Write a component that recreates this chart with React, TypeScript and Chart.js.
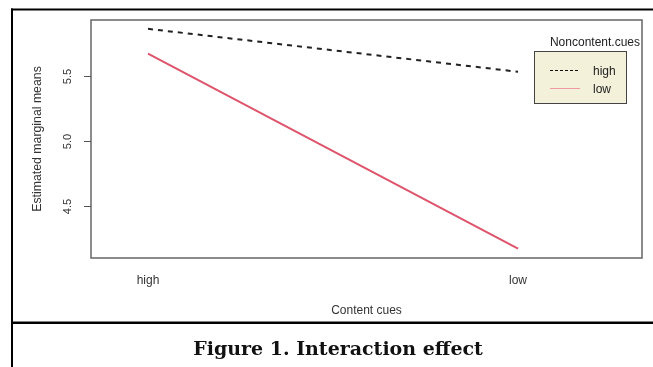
import React, { useEffect, useRef } from "react";
import { Chart, registerables } from "chart.js";

Chart.register(...registerables);

const categories = ["high", "low"];
const seriesNames = ["high", "low"];
const highValues = [5.86, 5.53];
const lowValues = [5.67, 4.17];
const yTicks = [4.5, 5.0, 5.5];
const xTitle = "Content cues";
const yTitle = "Estimated marginal means";
const legendTitle = "Noncontent.cues";
const caption = "Figure 1. Interaction effect";

const W = 653;
const H = 367;

const sans = '"Liberation Sans", Arial, sans-serif';

const decorPlugin = {
  id: "decor",
  beforeDraw(chart: any) {
    const ctx = chart.ctx;
    ctx.save();
    ctx.fillStyle = "#ffffff";
    ctx.fillRect(0, 0, W, H);
    ctx.restore();
  },
  afterDraw(chart: any) {
    const ctx = chart.ctx;
    const area = chart.chartArea;
    const xs = chart.scales.x;
    const ys = chart.scales.y;
    ctx.save();

    // plot box
    ctx.strokeStyle = "#6f6f6f";
    ctx.lineWidth = 1.6;
    ctx.strokeRect(area.left, area.top, area.right - area.left, area.bottom - area.top);

    // y ticks
    ctx.strokeStyle = "#555";
    ctx.lineWidth = 1;
    ctx.fillStyle = "#333";
    ctx.font = `11px ${sans}`;
    for (const t of yTicks) {
      const py = Math.round(ys.getPixelForValue(t)) + 0.5;
      ctx.beginPath();
      ctx.moveTo(area.left - 7, py);
      ctx.lineTo(area.left, py);
      ctx.stroke();
      ctx.save();
      ctx.translate(68, py);
      ctx.rotate(-Math.PI / 2);
      ctx.textAlign = "center";
      ctx.textBaseline = "middle";
      ctx.fillText(t.toFixed(1), 0, 0);
      ctx.restore();
    }

    // y title
    ctx.save();
    ctx.font = `12.3px ${sans}`;
    ctx.fillStyle = "#333";
    ctx.translate(38, (area.top + area.bottom) / 2);
    ctx.rotate(-Math.PI / 2);
    ctx.textAlign = "center";
    ctx.textBaseline = "middle";
    ctx.fillText(yTitle, 0, 0);
    ctx.restore();

    // x labels
    ctx.font = `12px ${sans}`;
    ctx.fillStyle = "#333";
    ctx.textAlign = "center";
    ctx.textBaseline = "alphabetic";
    categories.forEach((c, i) => {
      ctx.fillText(c, xs.getPixelForValue(i + 1), 284);
    });
    ctx.fillText(xTitle, (area.left + area.right) / 2, 314);

    // legend
    ctx.font = `12px ${sans}`;
    ctx.textAlign = "right";
    ctx.fillStyle = "#222";
    ctx.fillText(legendTitle, 640, 46);
    ctx.fillStyle = "#f4f1da";
    ctx.fillRect(534, 51, 93, 53);
    ctx.strokeStyle = "#444";
    ctx.lineWidth = 1;
    ctx.strokeRect(534.5, 51.5, 92, 52);
    const entries = [
      { name: seriesNames[0], color: "#111", dash: [3, 2], y: 70.5 },
      { name: seriesNames[1], color: "#f09aa6", dash: [], y: 88.5 },
    ];
    for (const e of entries) {
      ctx.strokeStyle = e.color;
      ctx.setLineDash(e.dash);
      ctx.beginPath();
      ctx.moveTo(550, e.y);
      ctx.lineTo(580, e.y);
      ctx.stroke();
      ctx.setLineDash([]);
      ctx.fillStyle = "#222";
      ctx.textAlign = "left";
      ctx.fillText(e.name, 593, e.y + 4.5);
    }

    // frame
    ctx.fillStyle = "#000";
    ctx.fillRect(11, 8.5, W - 11, 2);
    ctx.fillRect(11, 8.5, 2, H - 8.5);
    ctx.fillRect(11, 321.5, W - 11, 2.5);

    // caption
    ctx.font = `bold 19px "DejaVu Serif", Georgia, serif`;
    ctx.textAlign = "center";
    ctx.fillStyle = "#111";
    ctx.fillText(caption, 338, 355);

    ctx.restore();
  },
};

export default function App() {
  const ref = useRef<HTMLCanvasElement | null>(null);
  useEffect(() => {
    if (!ref.current) return;
    const chart = new Chart(ref.current, {
      type: "line",
      data: {
        datasets: [
          {
            label: seriesNames[0],
            data: highValues.map((v, i) => ({ x: i + 1, y: v })),
            borderColor: "#222",
            borderWidth: 2,
            borderDash: [5, 5],
            pointRadius: 0,
            fill: false,
          },
          {
            label: seriesNames[1],
            data: lowValues.map((v, i) => ({ x: i + 1, y: v })),
            borderColor: "#DF536B",
            borderWidth: 2,
            pointRadius: 0,
            fill: false,
          },
        ],
      },
      options: {
        animation: false,
        responsive: false,
        events: [],
        layout: { padding: { left: 91, top: 20, right: 11, bottom: 109 } },
        plugins: { legend: { display: false }, tooltip: { enabled: false } },
        scales: {
          x: { type: "linear", display: false, min: 0.846, max: 2.335 },
          y: { type: "linear", display: false, min: 4.098, max: 5.928 },
        },
      },
      plugins: [decorPlugin],
    });
    return () => chart.destroy();
  }, []);
  return (
    <div style={{ position: "absolute", left: 0, top: 0, width: W, height: H }}>
      <canvas ref={ref} width={W} height={H} style={{ display: "block", width: W, height: H }} />
    </div>
  );
}
